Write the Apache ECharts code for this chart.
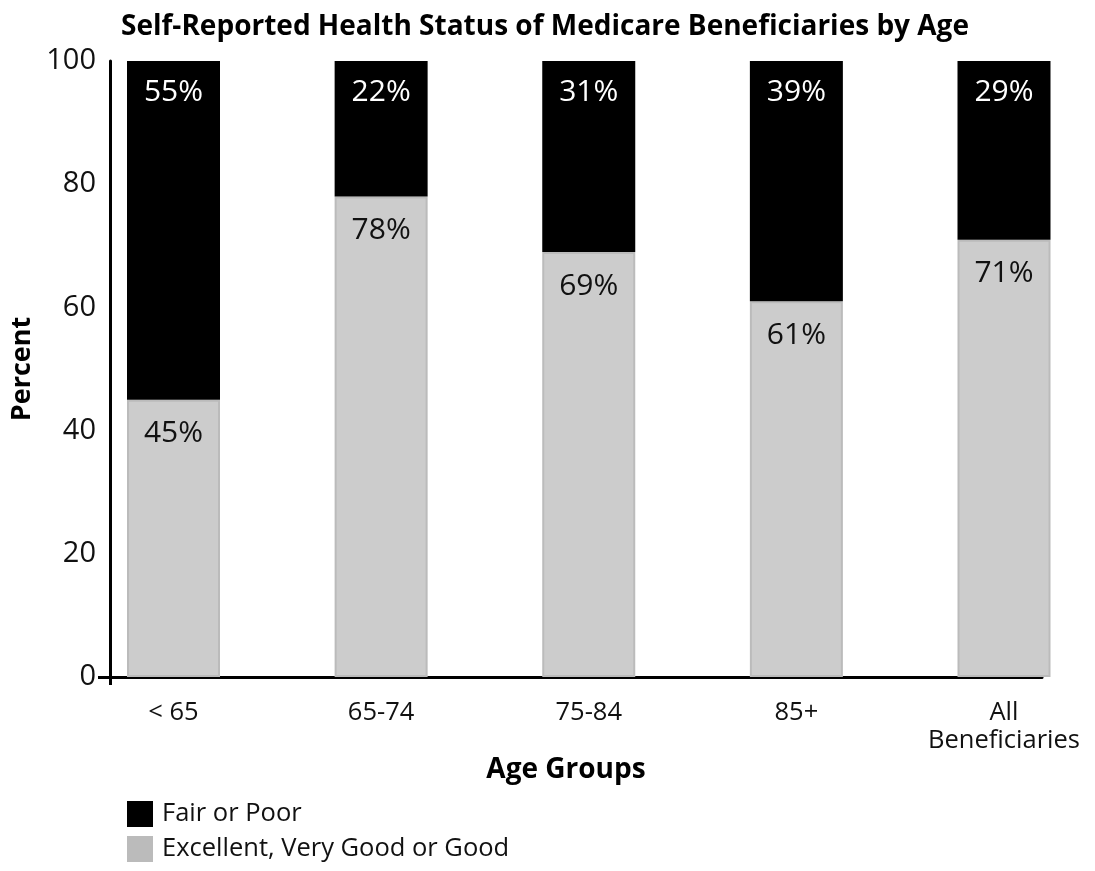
<!DOCTYPE html>
<html>
<head>
<meta charset="utf-8">
<script src="https://cdn.jsdelivr.net/npm/echarts@6/dist/echarts.min.js"></script>
<style>html,body{margin:0;padding:0;background:#fff}#c{width:1095px;height:871px}</style>
</head>
<body>
<div id="c"></div>
<script>
const categories = ['< 65', '65-74', '75-84', '85+', 'All\nBeneficiaries'];
const goodValues = [45, 78, 69, 61, 71];
const fairPoorValues = [55, 22, 31, 39, 29];
const yTicks = [0, 20, 40, 60, 80, 100];

const FONT = 'Open Sans';
const chart = echarts.init(document.getElementById('c'));
chart.setOption({
  animation: false,
  textStyle: { fontFamily: FONT },
  title: {
    text: 'Self-Reported Health Status of Medicare Beneficiaries by Age',
    left: 545, textAlign: 'center', top: 13, padding: 0,
    textStyle: { fontFamily: FONT, fontSize: 28, fontWeight: 'bold', color: '#000' }
  },
  legend: {
    orient: 'vertical', left: 127, top: 801, padding: 0,
    itemWidth: 26, itemHeight: 26, itemGap: 9,
    icon: 'rect',
    data: [
      { name: 'Fair or Poor', itemStyle: { color: '#000', borderWidth: 0 } },
      { name: 'Excellent, Very Good or Good', itemStyle: { color: '#bbbbbb', borderWidth: 0 } }
    ],
    textStyle: { fontFamily: FONT, fontSize: 25.5, color: '#111', padding: [0, 0, 0, 4] }
  },
  grid: [
    { left: 110, right: 53, top: 61, bottom: 194 },
    { left: 173.5, right: 91, top: 61, bottom: 194 }
  ],
  xAxis: [
    {
      gridIndex: 0, type: 'value', min: 0, max: 1,
      axisLine: { show: true, lineStyle: { color: '#000', width: 3 } },
      axisTick: { show: true, customValues: [0], length: 8, lineStyle: { color: '#000', width: 3 } },
      axisLabel: { show: false }, splitLine: { show: false },
      name: 'Age Groups', nameLocation: 'middle', nameGap: 79,
      nameTextStyle: { fontFamily: FONT, fontSize: 28, fontWeight: 'bold', color: '#000', padding: [0, 20, 0, 0] }
    },
    {
      gridIndex: 1, type: 'category', data: categories, boundaryGap: false,
      axisLine: { show: false }, axisTick: { show: false },
      axisLabel: { fontFamily: FONT, fontSize: 25.5, color: '#111', margin: 22, lineHeight: 28, interval: 0 }
    }
  ],
  yAxis: [
    {
      gridIndex: 0, type: 'value', min: 0, max: 100, interval: 20,
      axisLine: { show: true, lineStyle: { color: '#000', width: 3 } },
      axisTick: { show: true, customValues: [0], length: 12, lineStyle: { color: '#000', width: 3 } },
      axisLabel: { fontFamily: FONT, fontSize: 29, color: '#111', margin: 14,
        customValues: yTicks },
      splitLine: { show: false },
      name: 'Percent', nameLocation: 'middle', nameGap: 70, nameRotate: 90,
      nameTextStyle: { fontFamily: FONT, fontSize: 27, fontWeight: 'bold', color: '#000' }
    },
    { gridIndex: 1, type: 'value', min: 0, max: 100, show: false }
  ],
  series: [
    {
      name: 'Excellent, Very Good or Good', type: 'bar', stack: 'all',
      xAxisIndex: 1, yAxisIndex: 1, data: goodValues, barWidth: 93, clip: false,
      itemStyle: { color: '#cccccc', borderColor: '#bbbbbb', borderWidth: 2 },
      label: { show: true, position: 'insideTop', distance: 19, formatter: '{c}%',
        fontFamily: FONT, fontSize: 30, color: '#111' }
    },
    {
      name: 'Fair or Poor', type: 'bar', stack: 'all',
      xAxisIndex: 1, yAxisIndex: 1, data: fairPoorValues, barWidth: 93, clip: false,
      itemStyle: { color: '#000000' },
      label: { show: true, position: 'insideTop', distance: 16, formatter: '{c}%',
        fontFamily: FONT, fontSize: 30, color: '#fff' }
    }
  ]
});
</script>
</body>
</html>
